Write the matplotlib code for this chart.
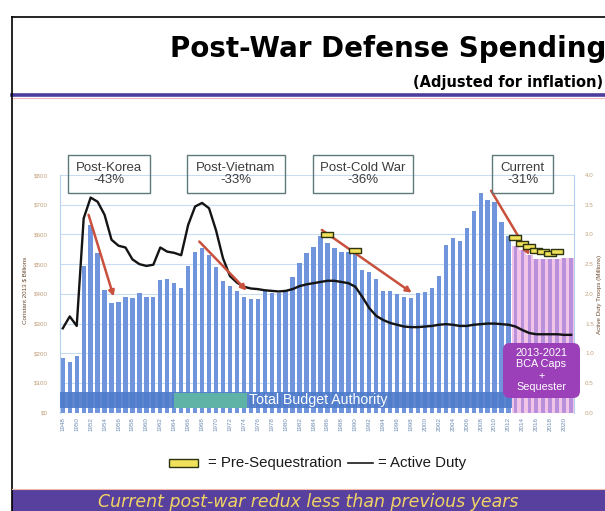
import matplotlib
matplotlib.use("Agg")
import matplotlib.pyplot as plt
from matplotlib.patches import Rectangle, FancyBboxPatch
from matplotlib.lines import Line2D
from matplotlib.transforms import IdentityTransform

plt.rcParams['font.family'] = ['Liberation Sans', 'DejaVu Sans']

# ---------------- data ----------------
years = list(range(1948, 2022))
budget = [183, 169, 192, 495, 632, 536, 413, 368, 374, 388,
          385, 404, 391, 391, 447, 449, 435, 419, 494, 542,
          553, 531, 492, 443, 428, 408, 388, 382, 384, 408,
          404, 404, 410, 456, 503, 537, 557, 595, 572, 555,
          542, 542, 537, 480, 475, 450, 411, 410, 399, 391,
          385, 404, 407, 421, 460, 565, 587, 578, 620, 680,
          738, 716, 710, 643, 595, 562, 548, 530, 518, 516,
          516, 518, 520, 522]
active_duty = [1.42, 1.62, 1.46, 3.27, 3.62, 3.55, 3.33, 2.91, 2.81, 2.78,
               2.58, 2.50, 2.47, 2.49, 2.78, 2.71, 2.69, 2.65, 3.16, 3.47,
               3.53, 3.44, 3.07, 2.60, 2.30, 2.19, 2.12, 2.09, 2.08, 2.06,
               2.05, 2.04, 2.05, 2.08, 2.13, 2.16, 2.18, 2.20, 2.22, 2.22,
               2.20, 2.18, 2.12, 1.95, 1.76, 1.63, 1.56, 1.51, 1.48, 1.45,
               1.44, 1.44, 1.45, 1.46, 1.48, 1.49, 1.48, 1.46, 1.46, 1.48,
               1.49, 1.50, 1.50, 1.49, 1.48, 1.45, 1.39, 1.34, 1.32, 1.32,
               1.32, 1.32, 1.31, 1.31]
seq_first_year = 2013
presq_years = [1986, 1990, 2013, 2014, 2015, 2016, 2017, 2018, 2019]
presq_values = [600, 548, 590, 572, 561, 547, 545, 536, 544]
era_labels = ['Post-Korea\n-43%', 'Post-Vietnam\n-33%', 'Post-Cold War\n-36%', 'Current\n-31%']
arrow_from = [(1951.7, 666), (1967.6, 576), (1985.2, 615), (2009.5, 747)]
arrow_to = [(1955.3, 391), (1974.4, 411), (1998.1, 404), (2015.0, 531)]
left_ticks = [0, 100, 200, 300, 400, 500, 600, 700, 800]
left_tick_labels = ['$0', '$100', '$200', '$300', '$400', '$500', '$600', '$700', '$800']
right_ticks = [0, 0.5, 1.0, 1.5, 2.0, 2.5, 3.0, 3.5, 4.0]
right_tick_labels = ['0.0', '0.5', '1.0', '1.5', '2.0', '2.5', '3.0', '3.5', '4.0']
x_tick_years = list(range(1948, 2021, 2))

# ---------------- figure ----------------
W, H = 605, 511
fig = plt.figure(figsize=(W / 100, H / 100), dpi=100)
fig.patch.set_facecolor('white')

def fx(x):
    return x / W

def fy(y):
    return 1 - y / H

ax = fig.add_axes([fx(60), fy(412.7), (574 - 60) / W, (412.7 - 175) / H])

blue_y = [y for y in years if y < seq_first_year]
blue_v = [v for y, v in zip(years, budget) if y < seq_first_year]
pink_y = [y for y in years if y >= seq_first_year]
pink_v = [v for y, v in zip(years, budget) if y >= seq_first_year]

ax.bar(blue_y, blue_v, width=0.62, color='#7095dc', zorder=2)
ax.bar(pink_y, pink_v, width=1.0, color='#f2c4e8', zorder=1.5)
ax.bar(pink_y, pink_v, width=0.55, color='#b890dc', zorder=2)

# Total budget authority band
ax.add_patch(Rectangle((1947.6, 15), seq_first_year - 0.5 - 1947.6, 56,
                       color='#4f7ccb', alpha=0.92, zorder=3, lw=0))
ax.add_patch(Rectangle((1963.9, 15), 10.5, 51, color='#5fb3a6', zorder=4, lw=0))
ax.text(1984.6, 42, 'Total Budget Authority', color='white', fontsize=10.2,
        ha='center', va='center', zorder=5)

ax.set_xlim(1947.6, 2021.4)
ax.set_ylim(0, 800)
ax.set_yticks(left_ticks)
ax.set_yticklabels(left_tick_labels)
ax.yaxis.grid(True, color='#c8ddf2', lw=0.8)
ax.set_axisbelow(True)
ax.set_xticks(x_tick_years)
ax.set_xticklabels([str(y) for y in x_tick_years], rotation=90)
ax.tick_params(axis='x', length=0, pad=3, labelsize=4.5, labelcolor='#6f8cb4')
ax.tick_params(axis='y', length=0, pad=9, labelsize=4.5, labelcolor='#c4a07c')
for s in ['top', 'bottom', 'right']:
    ax.spines[s].set_visible(False)
ax.spines['left'].set_color('#b5d0ec')

ax2 = ax.twinx()
ax2.plot(years, active_duty, color='#141414', lw=1.7, zorder=3)
# pre-sequestration markers (left scale)
rect_marker = [(-1, -0.45), (1, -0.45), (1, 0.45), (-1, 0.45), (-1, -0.45)]
ax2.plot(presq_years, presq_values, ls='none', marker=rect_marker, ms=8,
         mfc='#f0e05a', mec='#2e3410', mew=1.0, transform=ax.transData, zorder=5)
for (x0, y0), (x1, y1) in zip(arrow_from, arrow_to):
    ax2.annotate('', xy=(x1, y1), xytext=(x0, y0), xycoords=ax.transData,
                 textcoords=ax.transData,
                 arrowprops=dict(arrowstyle='-|>', color='#c8503c', lw=1.8,
                                 mutation_scale=8, shrinkA=0, shrinkB=0), zorder=4)
ax2.set_ylim(0, 4)
ax2.set_yticks(right_ticks)
ax2.set_yticklabels(right_tick_labels)
ax2.tick_params(axis='y', length=0, pad=8, labelsize=4.5, labelcolor='#c4a07c')
for s in ['top', 'bottom', 'left']:
    ax2.spines[s].set_visible(False)
ax2.spines['right'].set_color('#b5d0ec')
ax.set_xlim(1947.6, 2021.4)

fig.text(fx(25), fy(290), 'Constant 2013 $ Billions', rotation=90, fontsize=4.5,
         color='#6b4a30', ha='center', va='center')
fig.text(fx(599), fy(294), 'Active Duty Troops (Millions)', rotation=90, fontsize=4.5,
         color='#6b4a30', ha='center', va='center')

# era boxes
box_x = [(68, 150), (187, 285), (313, 413), (492, 553)]
for (x0, x1), lab in zip(box_x, era_labels):
    fig.add_artist(Rectangle((fx(x0), fy(193)), (x1 - x0) / W, 38 / H,
                             transform=fig.transFigure, fill=False,
                             ec='#5f7878', lw=1.0))
    fig.text(fx((x0 + x1) / 2), fy(174), lab, ha='center', va='center',
             fontsize=9.5, color='#3c3c3c', linespacing=1.1)

# BCA box
idt = IdentityTransform()
fig.add_artist(FancyBboxPatch((503, H - 398), 77, 55,
                              boxstyle='round,pad=0,rounding_size=7',
                              transform=idt, fc='#9b40b8', ec='none'))
fig.text(fx(541.5), fy(370), '2013-2021\nBCA Caps\n+\nSequester', ha='center',
         va='center', fontsize=7.8, color='white', linespacing=1.2)

# title
fig.text(fx(606), fy(49), 'Post-War Defense Spending', ha='right', va='center',
         fontsize=20, fontweight='bold', color='black', family='DejaVu Sans')
fig.text(fx(603), fy(82), '(Adjusted for inflation)', ha='right', va='center',
         fontsize=10.5, fontweight='bold', color='black', family='DejaVu Sans')
fig.add_artist(Line2D([fx(12), 1], [fy(95), fy(95)], color='#4b3e9e', lw=2.6,
                      transform=fig.transFigure))
fig.add_artist(Line2D([fx(12), 1], [fy(98), fy(98)], color='#f0b8c0', lw=0.8,
                      transform=fig.transFigure))

# frame
fig.add_artist(Line2D([fx(12), 1], [fy(17), fy(17)], color='black', lw=1.2,
                      transform=fig.transFigure))
fig.add_artist(Line2D([fx(12), fx(12)], [fy(17), 0], color='black', lw=1.2,
                      transform=fig.transFigure))

# legend
fig.add_artist(Rectangle((169, H - 467), 29, 8, transform=idt,
                         fc='#f0e05a', ec='#2e3410', lw=1.0))
fig.text(fx(208), fy(463), '= Pre-Sequestration', ha='left', va='center',
         fontsize=10.8, color='#1a1a1a')
fig.add_artist(Line2D([348, 373], [H - 463, H - 463], transform=idt,
                      color='#1a1a1a', lw=1.2))
fig.text(fx(378), fy(463), '= Active Duty', ha='left', va='center',
         fontsize=10.8, color='#1a1a1a')

# footer
fig.add_artist(Rectangle((fx(12), 0), 1 - fx(12), 21 / H, transform=fig.transFigure,
                         fc='#58409e', ec='none'))
fig.add_artist(Line2D([fx(12), 1], [fy(489), fy(489)], color='#f0b8a8', lw=0.8,
                      transform=fig.transFigure))
fig.text(fx(308), fy(502), 'Current post-war redux less than previous years',
         ha='center', va='center', fontsize=12.5, style='italic', color='#f1d465',
         family='DejaVu Sans')

fig.savefig('out.png', dpi=100)
